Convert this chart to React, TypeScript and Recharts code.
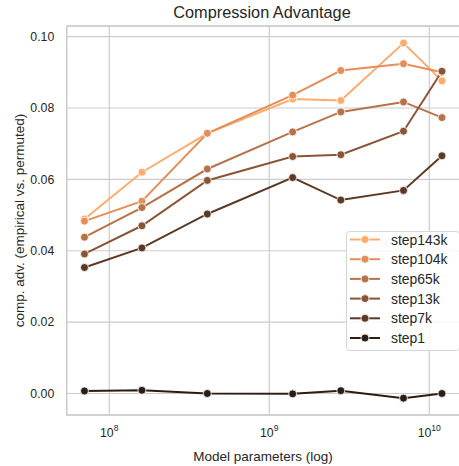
import React from "react";
import { LineChart, Line, XAxis, YAxis, CartesianGrid, ReferenceArea, Legend } from "recharts";

const params = [7e7, 1.6e8, 4.1e8, 1.4e9, 2.8e9, 6.9e9, 1.2e10];
const step143k = [0.0489, 0.062, 0.0729, 0.0825, 0.0821, 0.0982, 0.0876];
const step104k = [0.0483, 0.0539, 0.0729, 0.0836, 0.0905, 0.0924, 0.09];
const step65k = [0.0438, 0.0521, 0.0629, 0.0733, 0.0789, 0.0817, 0.0773];
const step13k = [0.0391, 0.047, 0.0597, 0.0664, 0.0669, 0.0735, 0.0903];
const step7k = [0.0353, 0.0408, 0.0503, 0.0605, 0.0542, 0.0569, 0.0666];
const step1 = [0.0007, 0.0009, 0.0, -0.0001, 0.0008, -0.0013, 0.0];

const seriesNames = ["step143k", "step104k", "step65k", "step13k", "step7k", "step1"];
const seriesValues = [step143k, step104k, step65k, step13k, step7k, step1];
const seriesColors = ["#ffab6d", "#e48e5a", "#b67249", "#895536", "#5b3924", "#2d1c12"];

const xTicks = [1e8, 1e9, 1e10];
const xTickExponents = ["8", "9", "10"];
const yTicks = [0, 0.02, 0.04, 0.06, 0.08, 0.1];
const xDomain = [5.42e7, 1.549e10];
const yDomain = [-0.00602, 0.10297];

const title = "Compression Advantage";
const xLabel = "Model parameters (log)";
const yLabel = "comp. adv. (empirical vs. permuted)";

const FONT = "'Liberation Sans', Arial, sans-serif";
const TEXT = "#262626";

const data = params.map((p, i) => {
  const row: Record<string, number> = { params: p };
  seriesNames.forEach((n, k) => {
    row[n] = seriesValues[k][i];
  });
  return row;
});

const XTick = (props: any) => {
  const { x, y, payload } = props;
  const idx = xTicks.indexOf(payload.value);
  return (
    <text x={x} y={y + 20} textAnchor="middle" fontFamily={FONT} fill={TEXT} fontSize={12.3}>
      <tspan>10</tspan>
      <tspan dy={-6.5} fontSize={8.6}>{xTickExponents[idx]}</tspan>
    </text>
  );
};

const LegendBox = () => {
  const w = 114;
  const h = 120;
  return (
    <svg width={w} height={h} style={{ display: "block" }}>
      <rect x={0.5} y={0.5} width={w - 1} height={h - 1} rx={3} ry={3} fill="#ffffff" fillOpacity={0.85} stroke="#d6d6d6" strokeWidth={1} />
      {seriesNames.map((n, i) => {
        const cy = 8.5 + i * 19.7;
        return (
          <g key={n}>
            <line x1={4} x2={34} y1={cy} y2={cy} stroke={seriesColors[i]} strokeWidth={2} />
            <circle cx={19} cy={cy} r={4} fill={seriesColors[i]} stroke="#fff" strokeWidth={0.8} />
            <text x={45} y={cy + 5} fontFamily={FONT} fontSize={13.9} fill={TEXT}>{n}</text>
          </g>
        );
      })}
    </svg>
  );
};

export default function App() {
  return (
    <div style={{ position: "absolute", left: 0, top: 0, width: 459, height: 466, overflow: "hidden", background: "#fff" }}>
      <LineChart width={461} height={466} data={data} margin={{ top: 26, right: 1.3, left: 0, bottom: 0 }}>
        <CartesianGrid stroke="#cccccc" strokeWidth={1.2} />
        <XAxis
          dataKey="params"
          type="number"
          scale="log"
          domain={xDomain}
          ticks={xTicks}
          allowDataOverflow
          height={51}
          axisLine={false}
          tickLine={false}
          tickSize={0}
          tick={<XTick />}
          interval={0}
        />
        <YAxis
          type="number"
          domain={yDomain}
          ticks={yTicks}
          allowDataOverflow
          width={66.7}
          axisLine={false}
          tickLine={false}
          tickSize={0}
          tickMargin={12.4}
          interval={0}
          tickFormatter={(v: number) => v.toFixed(2)}
          tick={{ fill: TEXT, fontSize: 12.3, fontFamily: FONT }}
        />
        <ReferenceArea
          x1={xDomain[0]}
          x2={xDomain[1]}
          y1={yDomain[0]}
          y2={yDomain[1]}
          fill="none"
          stroke="#cccccc"
          strokeWidth={1.3}
          ifOverflow="visible"
        />
        {seriesNames.map((n, i) => (
          <Line
            key={n}
            type="linear"
            dataKey={n}
            stroke={seriesColors[i]}
            strokeWidth={2}
            dot={{ r: 4, fill: seriesColors[i], stroke: "#ffffff", strokeWidth: 0.8 }}
            activeDot={false}
            isAnimationActive={false}
          />
        ))}
        <Legend
          layout="vertical"
          align="center"
          verticalAlign="middle"
          content={<LegendBox />}
          wrapperStyle={{ position: "absolute", left: 346, top: 231, width: 114, height: 120 }}
        />
      </LineChart>
      <svg width={459} height={466} style={{ position: "absolute", left: 0, top: 0, pointerEvents: "none" }}>
        <text x={262} y={18} textAnchor="middle" fontFamily={FONT} fontSize={16.3} fill={TEXT}>{title}</text>
        <text x={263} y={461} textAnchor="middle" fontFamily={FONT} fontSize={13.5} fill={TEXT}>{xLabel}</text>
        <text x={24} y={220.5} textAnchor="middle" fontFamily={FONT} fontSize={13.5} fill={TEXT} transform="rotate(-90 24 220.5)">{yLabel}</text>
      </svg>
    </div>
  );
}
